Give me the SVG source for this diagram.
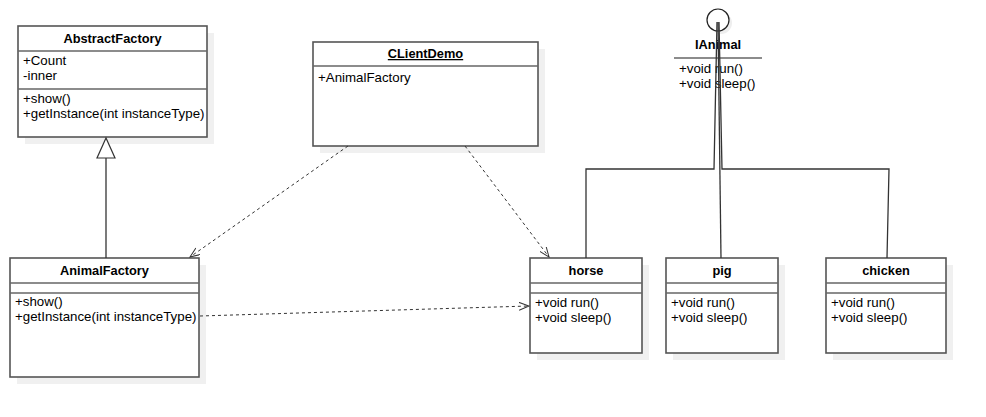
<svg xmlns="http://www.w3.org/2000/svg" width="986" height="417" viewBox="0 0 986 417">
<style>
text{font-family:"Liberation Sans",Arial,sans-serif;font-size:13.3px;fill:#000}
.t{font-weight:bold;font-size:12.8px;text-anchor:middle}
.box{fill:#fff;stroke:#555;stroke-width:1.6}
.sh{fill:#f0f0f0}
.sep{stroke:#666;stroke-width:1.5}
.ln{fill:none;stroke:#333;stroke-width:1.3}
.dash{fill:none;stroke:#333;stroke-width:1;stroke-dasharray:3,3}
</style>
<defs>
<marker id="open" markerWidth="12" markerHeight="10" refX="10" refY="4" orient="auto" markerUnits="userSpaceOnUse">
<path d="M0,0 L10,4 L0,8" fill="none" stroke="#333" stroke-width="1"/>
</marker>
</defs>
<rect width="986" height="417" fill="#fff"/>

<g id="AbstractFactory">
<rect class="sh" x="25" y="33" width="189" height="111"/>
<rect class="box" x="18" y="26" width="189" height="111"/>
<line class="sep" x1="18" y1="51" x2="207" y2="51"/>
<line class="sep" x1="18" y1="89" x2="207" y2="89"/>
<text class="t" x="112.5" y="43">AbstractFactory</text>
<text x="23" y="65">+Count</text>
<text x="23" y="80">-inner</text>
<text x="23" y="103">+show()</text>
<text x="23" y="118">+getInstance(int instanceType)</text>
</g>

<g id="CLientDemo">
<rect class="sh" x="320" y="49" width="225" height="104"/>
<rect class="box" x="313" y="42" width="225" height="104"/>
<line class="sep" x1="313" y1="66" x2="538" y2="66"/>
<text class="t" x="425.5" y="58" text-decoration="underline">CLientDemo</text>
<text x="318" y="82">+AnimalFactory</text>
</g>

<g id="AnimalFactory">
<rect class="sh" x="17" y="265" width="189" height="119"/>
<rect class="box" x="10" y="258" width="189" height="119"/>
<line class="sep" x1="10" y1="283" x2="199" y2="283"/>
<line class="sep" x1="10" y1="293" x2="199" y2="293"/>
<text class="t" x="104.5" y="275">AnimalFactory</text>
<text x="15" y="306">+show()</text>
<text x="15" y="321">+getInstance(int instanceType)</text>
</g>

<g id="IAnimal">
<circle cx="721" cy="23" r="11" fill="#eeeeee"/>
<circle cx="718" cy="20" r="11" fill="#fff" stroke="#222" stroke-width="1.2"/>
<text class="t" x="718" y="49">IAnimal</text>
<line class="sep" x1="674" y1="58" x2="762" y2="58"/>
<text x="679" y="73">+void run()</text>
<text x="679" y="88">+void sleep()</text>
</g>

<g id="horse">
<rect class="sh" x="537" y="265" width="112" height="95"/>
<rect class="box" x="530" y="258" width="112" height="95"/>
<line class="sep" x1="530" y1="283" x2="642" y2="283"/>
<line class="sep" x1="530" y1="293" x2="642" y2="293"/>
<text class="t" x="586" y="275">horse</text>
<text x="535" y="307">+void run()</text>
<text x="535" y="322">+void sleep()</text>
</g>

<g id="pig">
<rect class="sh" x="673" y="265" width="112" height="95"/>
<rect class="box" x="666" y="258" width="112" height="95"/>
<line class="sep" x1="666" y1="283" x2="778" y2="283"/>
<line class="sep" x1="666" y1="293" x2="778" y2="293"/>
<text class="t" x="722" y="275">pig</text>
<text x="671" y="307">+void run()</text>
<text x="671" y="322">+void sleep()</text>
</g>

<g id="chicken">
<rect class="sh" x="833" y="265" width="120" height="95"/>
<rect class="box" x="826" y="258" width="120" height="95"/>
<line class="sep" x1="826" y1="283" x2="946" y2="283"/>
<line class="sep" x1="826" y1="293" x2="946" y2="293"/>
<text class="t" x="886" y="275">chicken</text>
<text x="831" y="307">+void run()</text>
<text x="831" y="322">+void sleep()</text>
</g>

<g id="connectors">
<polyline class="ln" points="106,158 106,258"/>
<polygon points="106,138 97,158 115,158" fill="#fff" stroke="#333" stroke-width="1.2"/>
<polyline class="ln" points="717,22 714,169 586,169 586,258"/>
<polyline class="ln" points="718,22 721,258"/>
<polyline class="ln" points="719,22 722,169 889,169 887,258"/>
<line class="dash" x1="348" y1="146" x2="190" y2="257" marker-end="url(#open)"/>
<line class="dash" x1="465" y1="146" x2="549" y2="257" marker-end="url(#open)"/>
<line class="dash" x1="200" y1="316" x2="529" y2="306" marker-end="url(#open)"/>
</g>
</svg>
